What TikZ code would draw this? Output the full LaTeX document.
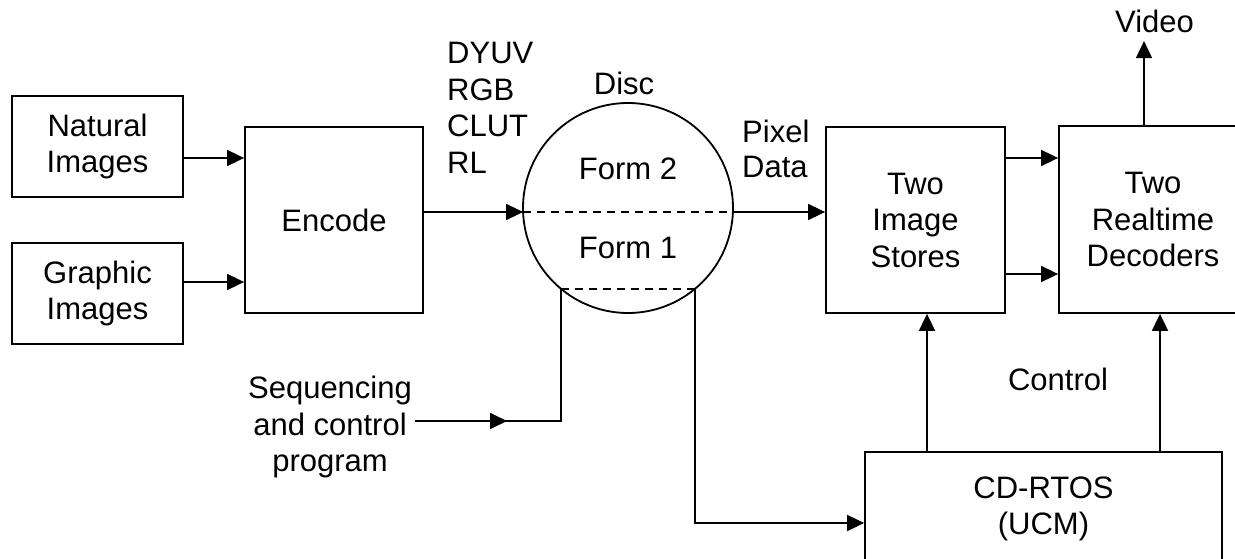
\documentclass[tikz,border=0pt]{standalone}
\usepackage{fontspec}
\setmainfont{Liberation Sans}
\usetikzlibrary{arrows.meta,calc}
\begin{document}
\begin{tikzpicture}[x=1pt,y=1pt,
  font=\fontsize{31}{36.5}\selectfont,
  box/.style={draw,line width=1.8pt,align=center,inner sep=0pt},
  conn/.style={line width=1.8pt},
  arr/.style={conn,-{Triangle[length=17pt,width=16pt]}},
  dsh/.style={line width=1.8pt,dash pattern=on 8pt off 6pt},
  lbl/.style={inner sep=0pt,anchor=base west},
  ctr/.style={inner sep=0pt,anchor=base},
]
\useasboundingbox (0,0) rectangle (1235,-559);
% boxes
\node[box,minimum width=171,minimum height=101] (nat) at (97.5,-146.5) {Natural\\Images};
\node[box,minimum width=171,minimum height=101] (gra) at (97.5,-293.5) {Graphic\\Images};
\node[box,minimum width=178,minimum height=186] (enc) at (334,-220) {Encode};
\node[draw,circle,line width=1.8pt,minimum size=210,inner sep=0pt] (disc) at (628,-208) {};
\node[box,minimum width=179,minimum height=186] (sto) at (915.5,-220) {Two\\Image\\Stores};
\node[box,minimum width=188,minimum height=187] (dec) at (1153,-219.5) {Two\\Realtime\\Decoders};
\node[box,minimum width=357,minimum height=114] (os) at (1043.5,-509) {CD-RTOS\\(UCM)};
% texts
\node[ctr] (f2) at (628,-180) {Form 2};
\node[ctr] (f1) at (628,-258) {Form 1};
\node[ctr] (disclbl) at (624,-95) {Disc};
\node[ctr] (vid) at (1154.5,-33) {Video};
\node[lbl] (dyuv) at (447,-64) {DYUV};
\node[lbl] (rgb) at (447,-101) {RGB};
\node[lbl] (clut) at (447,-137) {CLUT};
\node[lbl] (rl) at (447,-174) {RL};
\node[lbl] (pix) at (742,-143) {Pixel};
\node[lbl] (dat) at (742,-178) {Data};
\node[ctr] (ctl) at (1058,-390) {Control};
\node[align=center,inner sep=0pt] (seq) at (330,-427) {Sequencing\\and control\\program};
% junction points
\coordinate (dL) at ($(disc.center)+(-104.9,-4)$);
\coordinate (dR) at ($(disc.center)+(104.9,-4)$);
\coordinate (cL) at ($(disc.center)+(-66.8,-81)$);
\coordinate (cR) at ($(disc.center)+(66.8,-81)$);
\coordinate (seqout) at (415,-421);
% connectors
\draw[arr] ([yshift=-11.5pt]nat.east) -- ([yshift=-11.5pt]nat.east -| enc.west);
\draw[arr] ([yshift=11.5pt]gra.east) -- ([yshift=11.5pt]gra.east -| enc.west);
\draw[arr] (enc.east |- dL) -- (dL);
\draw[dsh] (dL) -- (dR);
\draw[dsh] (cL) -- (cR);
\draw[arr] (dR) -- (sto.west |- dR);
\draw[conn] (seqout) -| (cL);
\draw[arr] (seqout) -- ++(92,0);
\draw[arr] (cR) |- ([yshift=-14pt]os.west);
\draw[arr] ([xshift=11.5pt]sto.south |- os.north) -- ([xshift=11.5pt]sto.south);
\draw[arr] ([xshift=7pt]dec.south |- os.north) -- ([xshift=7pt]dec.south);
\draw[arr] ([yshift=62pt]sto.east) -- ([yshift=62pt]sto.east -| dec.west);
\draw[arr] ([yshift=-54pt]sto.east) -- ([yshift=-54pt]sto.east -| dec.west);
\draw[arr] ([xshift=-9pt]dec.north) -- ++(0,84);
\end{tikzpicture}
\end{document}
